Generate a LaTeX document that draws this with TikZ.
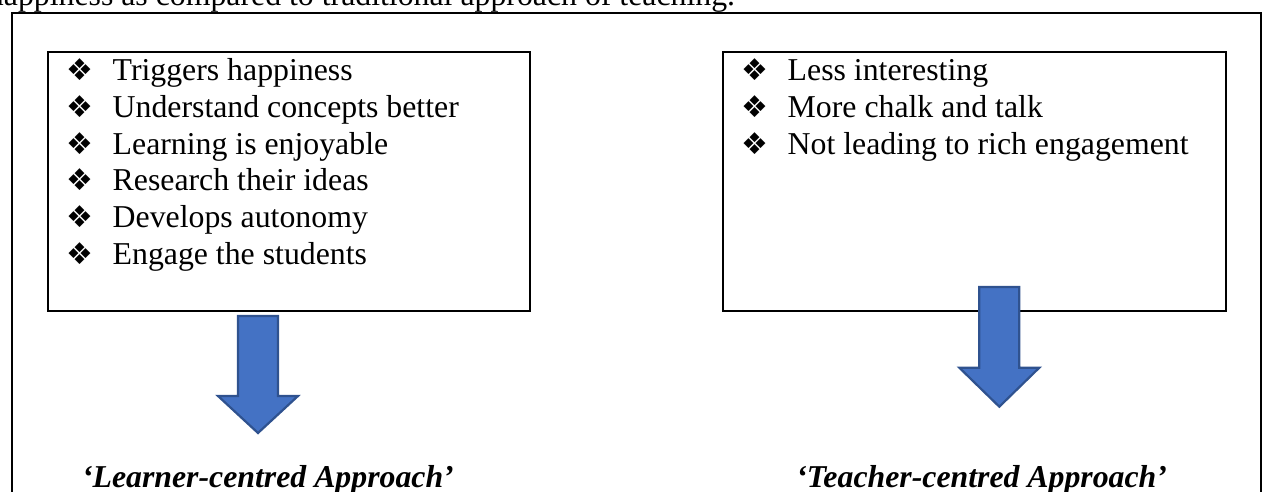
\documentclass[tikz,border=0pt]{standalone}
\usepackage{fontspec}
\setmainfont{Liberation Serif}
\newfontfamily\dingfont{DejaVu Sans}
\definecolor{arrowfill}{HTML}{4472C4}
\definecolor{arrowline}{HTML}{2F528F}
% list bullet followed by its text
\newcommand{\bul}{{\dingfont\fontsize{15pt}{15pt}\selectfont ❖}}
\newcommand{\itm}[1]{\makebox[23.35pt][l]{\bul}#1}
\begin{document}
\begin{tikzpicture}[x=0.5pt,y=-0.5pt,
  every node/.style={inner sep=0pt,outer sep=0pt,font=\fontsize{15.9pt}{18.3pt}\selectfont},
  frame/.style={draw=black,line width=1.3pt},
  box/.style={draw=black,line width=1.3pt,rectangle},
  item/.style={anchor=base west},
  label/.style={font=\fontsize{15.9pt}{18.3pt}\selectfont\bfseries\itshape},
  barrow/.style={fill=arrowfill,draw=arrowline,line width=1.1pt,line join=miter}]
\clip (0,0) rectangle (1263,492);
\useasboundingbox (0,0) rectangle (1263,492);

% running text of the page above the frame
\node[anchor=base west] (caption) at (-12,6) {happiness as compared to traditional approach of teaching.};

% outer frame, open towards the bottom
\draw[frame] (12,560) -- (12,13) -- (1261,13) -- (1261,560);

% the two boxes
\node[box,minimum width=241pt,minimum height=129.5pt] (lbox) at (289,181.5) {};
\node[box,minimum width=251.5pt,minimum height=129.5pt] (rbox) at (974.5,181.5) {};

% learner-centred points
\node[item] (l1) at (66,81)    {\itm{Triggers happiness}};
\node[item] (l2) at (66,117.6) {\itm{Understand concepts better}};
\node[item] (l3) at (66,154.2) {\itm{Learning is enjoyable}};
\node[item] (l4) at (66,190.8) {\itm{Research their ideas}};
\node[item] (l5) at (66,227.4) {\itm{Develops autonomy}};
\node[item] (l6) at (66,264)   {\itm{Engage the students}};

% teacher-centred points
\node[item] (r1) at (741,81)    {\itm{Less interesting}};
\node[item] (r2) at (741,117.6) {\itm{More chalk and talk}};
\node[item] (r3) at (741,154.2) {\itm{Not leading to rich engagement}};

% block arrows pointing down to the labels
\coordinate (la) at (258,316);
\coordinate (ra) at (999.3,287);
\draw[barrow] (la) ++(-20,0) -- ++(40,0) -- ++(0,80) -- ++(20,0) -- ++(-40,37) -- ++(-40,-37) -- ++(20,0) -- cycle;
\draw[barrow] (ra) ++(-20,0) -- ++(40,0) -- ++(0,80.7) -- ++(20,0) -- ++(-40,39) -- ++(-40,-39) -- ++(20,0) -- cycle;

% approach labels
\node[label,anchor=base west] (llabel) at (82,487) {‘Learner-centred Approach’};
\node[label,anchor=base east] (rlabel) at (1167,487) {‘Teacher-centred Approach’};
\end{tikzpicture}
\end{document}
